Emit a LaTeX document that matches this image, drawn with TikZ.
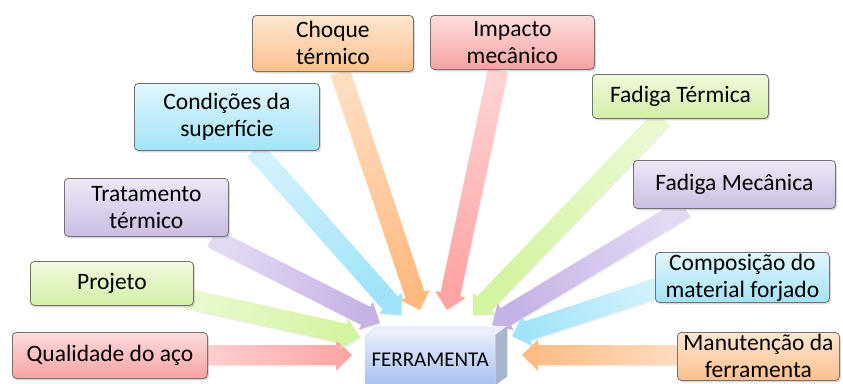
\documentclass[tikz,border=0pt]{standalone}
\usepackage{fontspec}
\setmainfont{Carlito}
\usetikzlibrary{calc,shadows}
\definecolor{pinkT}{HTML}{FDDCDC}\definecolor{pinkB}{HTML}{F7A3A3}\definecolor{pinkA}{HTML}{FFA3A3}
\definecolor{greenT}{HTML}{F0FADC}\definecolor{greenB}{HTML}{D3EFA6}\definecolor{greenA}{HTML}{D3F4A0}
\definecolor{purpT}{HTML}{EEE8F6}\definecolor{purpB}{HTML}{CBBDE3}\definecolor{purpA}{HTML}{C6B3E6}
\definecolor{blueT}{HTML}{E0F6FD}\definecolor{blueB}{HTML}{A3E3F7}\definecolor{blueA}{HTML}{A0E4FA}
\definecolor{orT}{HTML}{FFE6D0}\definecolor{orB}{HTML}{FBC08E}\definecolor{orA}{HTML}{FFBA80}
\definecolor{ferT}{HTML}{E2EAFB}\definecolor{ferB}{HTML}{A9C1F0}\definecolor{ferS}{HTML}{A9B5CE}
\tikzset{
  box/.style={draw=black!55, rounded corners=4pt, line width=0.8pt, align=center,
    font=\fontsize{23.5}{27}\selectfont, inner sep=0pt, anchor=north west,
    drop shadow={shadow xshift=1.5pt,shadow yshift=-2pt,opacity=0.3}},
  pinkbox/.style={box, top color=pinkT, bottom color=pinkB},
  greenbox/.style={box, top color=greenT, bottom color=greenB},
  purpbox/.style={box, top color=purpT, bottom color=purpB},
  bluebox/.style={box, top color=blueT, bottom color=blueB},
  orbox/.style={box, top color=orT, bottom color=orB},
  arrowsty/.style={drop shadow={opacity=0.12,shadow xshift=1pt,shadow yshift=-1.5pt}},
}
\newcommand\fatarrow[3]{%
  \pgfmathanglebetweenpoints{\pgfpointanchor{#1}{center}}{\pgfpointanchor{#2}{center}}%
  \pgfmathsetmacro\arrang{\pgfmathresult+90}%
  \coordinate (tmph) at ($(#2)!16pt!(#1)$);
  \path[arrowsty, top color=#3!50, bottom color=#3, shading angle=\arrang]
    ($(#1)!10pt!90:(#2)$) -- ($(tmph)!10pt!90:(#2)$) -- ($(tmph)!15.5pt!90:(#2)$) -- (#2)
    -- ($(tmph)!15.5pt!-90:(#2)$) -- ($(tmph)!10pt!-90:(#2)$) -- ($(#1)!10pt!-90:(#2)$) -- cycle;
}
\begin{document}
\begin{tikzpicture}[x=1pt,y=-1pt]
\useasboundingbox[fill=white] (0,0) rectangle (843,383);
% tails and tips
\coordinate (qT) at (200,355);  \coordinate (qH) at (352,355);
\coordinate (pT) at (185,298);  \coordinate (pH) at (360,337);
\coordinate (tT) at (212,238);  \coordinate (tH) at (380,323);
\coordinate (cT) at (255,150);  \coordinate (cH) at (401,315);
\coordinate (chT) at (340,72);  \coordinate (chH) at (420,310);
\coordinate (imT) at (498,70);  \coordinate (imH) at (447,310);
\coordinate (ftT) at (662,118); \coordinate (ftH) at (473,315);
\coordinate (fmT) at (685,208); \coordinate (fmH) at (492,325);
\coordinate (coT) at (657,288); \coordinate (coH) at (512,336);
\coordinate (maT) at (680,355); \coordinate (maH) at (522,355);
% arrows
\fatarrow{qT}{qH}{pinkA}
\fatarrow{pT}{pH}{greenA}
\fatarrow{tT}{tH}{purpA}
\fatarrow{cT}{cH}{blueA}
\fatarrow{chT}{chH}{orA}
\fatarrow{imT}{imH}{pinkA}
\fatarrow{ftT}{ftH}{greenA}
\fatarrow{fmT}{fmH}{purpA}
\fatarrow{coT}{coH}{blueA}
\fatarrow{maT}{maH}{orA}
% boxes
\node[pinkbox, minimum width=195pt, minimum height=46pt] (q) at (12,332) {Qualidade do aço};
\node[greenbox, minimum width=163pt, minimum height=44pt] (p) at (30,261) {Projeto};
\node[purpbox, minimum width=164pt, minimum height=58pt] (t) at (64,178) {Tratamento\\térmico};
\node[bluebox, minimum width=185pt, minimum height=67pt] (c) at (134,83) {Condições da\\superfície};
\node[orbox, minimum width=161pt, minimum height=56pt] (ch) at (252,15) {Choque\\térmico};
\node[pinkbox, minimum width=164pt, minimum height=54pt] (im) at (430,15) {Impacto\\mecânico};
\node[greenbox, minimum width=176pt, minimum height=44pt] (ft) at (592,74) {Fadiga Térmica};
\node[purpbox, minimum width=202pt, minimum height=48pt] (fm) at (633,160) {Fadiga Mecânica};
\node[bluebox, minimum width=174pt, minimum height=50pt] (co) at (655,252) {Composição do\\material forjado};
\node[orbox, minimum width=162pt, minimum height=48pt] (ma) at (677,332) {Manutenção da\\ferramenta};
% FERRAMENTA block
\node[anchor=north west, minimum width=130pt, minimum height=50pt, inner sep=0pt,
  top color=ferT, bottom color=ferB, font=\fontsize{21}{24}\selectfont] (fer) at (365,335) {FERRAMENTA};
\fill[ferT!70!white] (fer.north west) -- ($(fer.north west)+(10,-9)$) -- ($(fer.north east)+(12,-9)$) -- (fer.north east) -- cycle;
\fill[ferS] (fer.north east) -- ($(fer.north east)+(12,-9)$) -- ($(fer.south east)+(12,-9)$) -- (fer.south east) -- cycle;
\end{tikzpicture}
\end{document}
